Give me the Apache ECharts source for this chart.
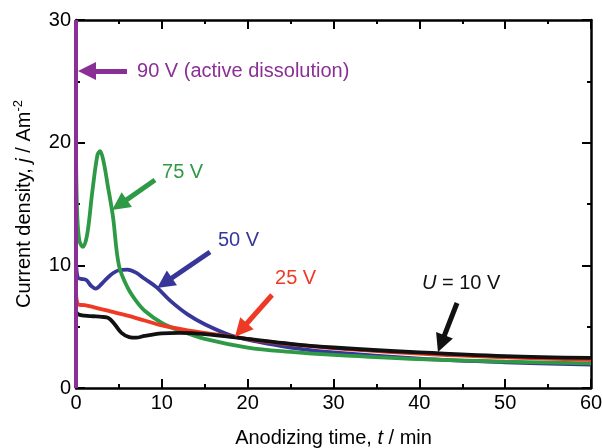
<!DOCTYPE html>
<html>
<head>
<meta charset="utf-8" />
<title>Current density vs anodizing time</title>
<style>
  html, body, #chart { width: 100%; height: 100%; margin: 0; overflow: hidden; background: #fff; }
</style>
</head>
<body>
<div id="chart"></div>
<script src="https://cdn.jsdelivr.net/npm/echarts@6/dist/echarts.min.js"></script>
<script>
// values: t / min, j / A m-2
var t10 = [0, 0.3, 1, 2, 3, 3.8, 4.5, 5.3, 6.2, 7, 8, 10, 12, 15, 20, 25, 30, 40, 50, 60];
var j10 = [6.2, 6.0, 5.9, 5.85, 5.8, 5.7, 5.2, 4.5, 4.15, 4.1, 4.25, 4.45, 4.5, 4.4, 4.0, 3.6, 3.3, 2.9, 2.6, 2.45];

var t25 = [0, 0.3, 1, 2, 4, 6, 8, 10, 13, 16, 19, 22, 26, 30, 40, 50, 60];
var j25 = [7.8, 6.8, 6.75, 6.6, 6.25, 5.9, 5.5, 5.1, 4.7, 4.4, 4.1, 3.8, 3.5, 3.25, 2.8, 2.5, 2.3];

var t50 = [0, 0.2, 0.6, 1.2, 1.8, 2.3, 3, 4, 5, 6, 7, 8, 9.4, 11, 13, 15, 18, 21, 25, 30, 40, 50, 60];
var j50 = [10.5, 9.0, 8.9, 8.8, 8.3, 8.1, 8.5, 9.2, 9.6, 9.65, 9.4, 8.9, 8.2, 7.1, 6.0, 5.2, 4.3, 3.8, 3.3, 2.9, 2.4, 2.1, 1.9];

var t75 = [0, 0.15, 0.4, 0.8, 1.3, 1.9, 2.5, 2.8, 3.2, 3.7, 4.3, 5, 6, 7, 8, 10, 12, 15, 20, 25, 30, 40, 50, 60];
var j75 = [19, 14, 12, 11.5, 12.5, 16, 19, 19.3, 18.5, 16.5, 14, 10, 8.2, 7.1, 6.3, 5.3, 4.7, 4.0, 3.3, 2.95, 2.7, 2.35, 2.15, 2.0];

var t90 = [0, 0];
var j90 = [0, 30];

var xTicks = [0, 10, 20, 30, 40, 50, 60];
var yTicks = [0, 10, 20, 30];

// annotation text and arrows (tail -> head), in data units
var notes = {
  v90: { text: '90 V (active dissolution)', at: [7.11, 25.84], tail: [5.94, 25.84], head: [1.28, 25.84] },
  v75: { text: '75 V', at: [10.02, 17.53], tail: [9.20, 16.96], head: [5.06, 14.93] },
  v50: { text: '50 V', at: [16.54, 12.06], tail: [15.61, 11.09], head: [10.31, 8.56] },
  v25: { text: '25 V', at: [23.19, 8.89], tail: [22.84, 7.58], head: [19.22, 4.73] },
  v10: { text: '{i|U} = 10 V', at: [40.31, 8.56], tail: [44.39, 6.93], head: [42.55, 3.62] }
};

var colors = { v10: '#111111', v25: '#ee3a24', v50: '#37379a', v75: '#2f9a45', v90: '#8a2f96' };
var font = 'Liberation Sans, Arial, Helvetica, sans-serif';

function pairs(t, j) {
  return t.map(function (x, i) { return [x, j[i]]; });
}

function makeSeries(key, t, j, extra) {
  var c = colors[key];
  var n = notes[key];
  var s = {
    type: 'line',
    data: pairs(t, j),
    smooth: 0.35,
    showSymbol: false,
    symbol: 'none',
    lineStyle: { color: c, width: 3.8 },
    itemStyle: { color: c },
    silent: true,
    markLine: {
      silent: true,
      animation: false,
      symbol: 'none',
      lineStyle: { color: c, width: 5, type: 'solid' },
      label: { show: false },
      data: [[
        { coord: n.tail, symbol: 'none', symbolSize: 1 },
        { coord: n.head, symbol: 'triangle', symbolSize: 18, itemStyle: { color: c } }
      ]]
    },
    markPoint: {
      silent: true,
      animation: false,
      symbol: 'circle',
      symbolSize: 0,
      data: [{
        coord: n.at,
        label: {
          show: true,
          position: 'right',
          distance: 0,
          formatter: n.text,
          color: c,
          fontSize: 20,
          fontFamily: font,
          rich: { i: { fontStyle: 'italic', fontSize: 20, color: c, fontFamily: font } }
        }
      }]
    }
  };
  if (extra) Object.assign(s, extra);
  return s;
}

var axisLine = { show: true, onZero: false, lineStyle: { color: '#000', width: 2.5 } };
var tick = { show: true, inside: true, length: 9, lineStyle: { color: '#000', width: 2 } };
var minor = { show: true, splitNumber: 2, length: 4, lineStyle: { color: '#000', width: 2 } };

var chart = echarts.init(document.getElementById('chart'));
chart.setOption({
  animation: false,
  backgroundColor: '#fff',
  grid: { left: 76, right: 11, top: 20, bottom: 60, outerBoundsMode: 'none', containLabel: false },
  xAxis: [{
    type: 'value',
    min: xTicks[0],
    max: xTicks[xTicks.length - 1],
    interval: xTicks[1] - xTicks[0],
    axisLine: axisLine,
    axisTick: tick,
    minorTick: minor,
    splitLine: { show: false },
    axisLabel: { color: '#000', fontSize: 20, fontFamily: font, margin: 5 },
    name: 'Anodizing time, {i|t} / min',
    nameLocation: 'middle',
    nameGap: 40,
    nameTextStyle: {
      color: '#000', fontSize: 20, fontFamily: font,
      rich: { i: { fontStyle: 'italic', fontSize: 20, fontFamily: font, color: '#000' } }
    }
  }, {
    type: 'value',
    position: 'top',
    min: xTicks[0],
    max: xTicks[xTicks.length - 1],
    interval: xTicks[1] - xTicks[0],
    axisLine: axisLine,
    axisTick: tick,
    minorTick: minor,
    splitLine: { show: false },
    axisLabel: { show: false }
  }],
  yAxis: [{
    type: 'value',
    min: yTicks[0],
    max: yTicks[yTicks.length - 1],
    interval: yTicks[1] - yTicks[0],
    axisLine: axisLine,
    axisTick: tick,
    minorTick: minor,
    splitLine: { show: false },
    axisLabel: { color: '#000', fontSize: 20, fontFamily: font, margin: 5 },
    name: 'Current density, {i|j} / Am{s|-2}',
    nameLocation: 'middle',
    nameGap: 40,
    nameTextStyle: {
      color: '#000', fontSize: 20, fontFamily: font, lineHeight: 24,
      rich: {
        i: { fontStyle: 'italic', fontSize: 20, fontFamily: font, color: '#000', lineHeight: 24 },
        s: { fontSize: 13, fontFamily: font, color: '#000', lineHeight: 24, verticalAlign: 'top', padding: [0, 0, 8, 0] }
      }
    }
  }, {
    type: 'value',
    position: 'right',
    min: yTicks[0],
    max: yTicks[yTicks.length - 1],
    interval: yTicks[1] - yTicks[0],
    axisLine: axisLine,
    axisTick: tick,
    minorTick: minor,
    splitLine: { show: false },
    axisLabel: { show: false }
  }],
  series: [
    makeSeries('v50', t50, j50),
    makeSeries('v75', t75, j75),
    makeSeries('v25', t25, j25),
    makeSeries('v10', t10, j10),
    makeSeries('v90', t90, j90, { smooth: false, clip: false, lineStyle: { color: colors.v90, width: 4 } })
  ]
});
</script>
</body>
</html>
